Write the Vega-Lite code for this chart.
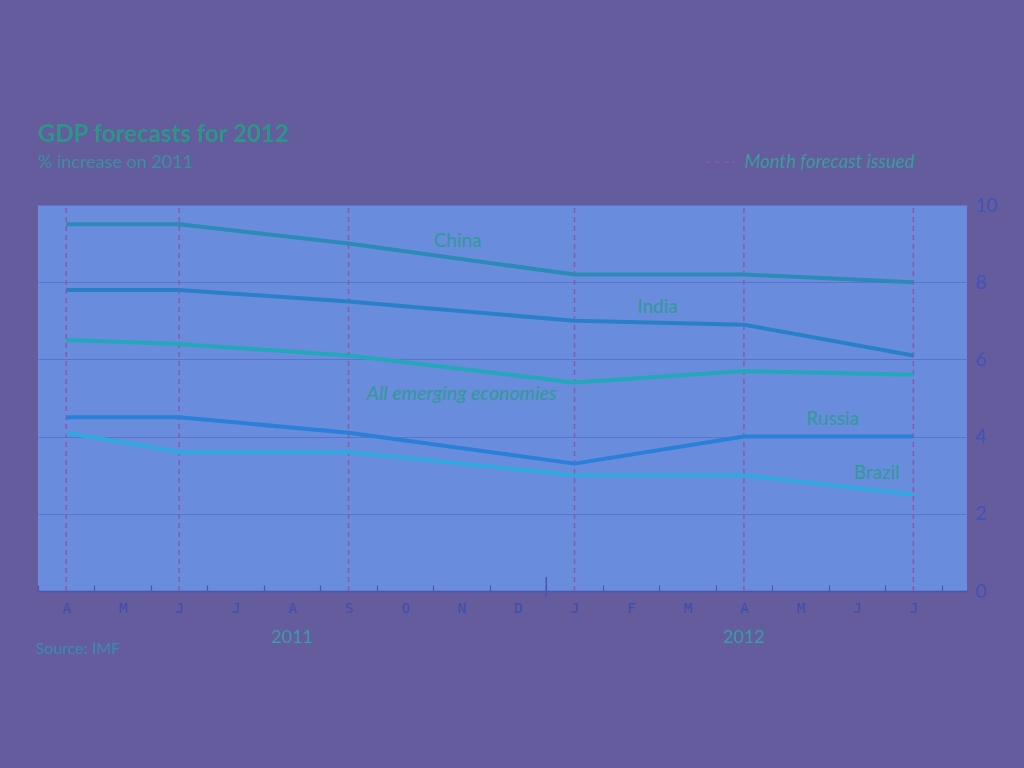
{
  "$schema": "https://vega.github.io/schema/vega-lite/v6.json",
  "autosize": {"type": "none"},
  "width": 929,
  "height": 386,
  "padding": {"left": 38, "top": 205, "right": 57, "bottom": 177},
  "background": "#645c9c",
  "config": {
    "view": {"stroke": null, "fill": "#6a8cdc"},
    "font": "Lato",
    "title": {"color": "#2d9488", "subtitleColor": "#3a8ea0"}
  },
  "title": {
    "text": "GDP forecasts for 2012",
    "subtitle": "% increase on 2011",
    "anchor": "start",
    "frame": "group",
    "fontSize": 24,
    "fontWeight": "bold",
    "subtitleFontSize": 18,
    "subtitlePadding": 7,
    "offset": -19
  },
  "datasets": {
    "gdp": [
      {"country": "China", "month": 4, "value": 9.5},
      {"country": "China", "month": 6, "value": 9.5},
      {"country": "China", "month": 9, "value": 9.0},
      {"country": "China", "month": 13, "value": 8.2},
      {"country": "China", "month": 16, "value": 8.2},
      {"country": "China", "month": 19, "value": 8.0},
      {"country": "India", "month": 4, "value": 7.8},
      {"country": "India", "month": 6, "value": 7.8},
      {"country": "India", "month": 9, "value": 7.5},
      {"country": "India", "month": 13, "value": 7.0},
      {"country": "India", "month": 16, "value": 6.9},
      {"country": "India", "month": 19, "value": 6.1},
      {"country": "All emerging economies", "month": 4, "value": 6.5},
      {"country": "All emerging economies", "month": 6, "value": 6.4},
      {"country": "All emerging economies", "month": 9, "value": 6.1},
      {"country": "All emerging economies", "month": 13, "value": 5.4},
      {"country": "All emerging economies", "month": 16, "value": 5.7},
      {"country": "All emerging economies", "month": 19, "value": 5.6},
      {"country": "Russia", "month": 4, "value": 4.5},
      {"country": "Russia", "month": 6, "value": 4.5},
      {"country": "Russia", "month": 9, "value": 4.1},
      {"country": "Russia", "month": 13, "value": 3.3},
      {"country": "Russia", "month": 16, "value": 4.0},
      {"country": "Russia", "month": 19, "value": 4.0},
      {"country": "Brazil", "month": 4, "value": 4.1},
      {"country": "Brazil", "month": 6, "value": 3.6},
      {"country": "Brazil", "month": 9, "value": 3.6},
      {"country": "Brazil", "month": 13, "value": 3.0},
      {"country": "Brazil", "month": 16, "value": 3.0},
      {"country": "Brazil", "month": 19, "value": 2.5}
    ],
    "forecasts": [
      {"month": 4}, {"month": 6}, {"month": 9}, {"month": 13}, {"month": 16}, {"month": 19}
    ],
    "one": [{}]
  },
  "layer": [
    {
      "data": {"name": "forecasts"},
      "mark": {"type": "rule", "color": "#8a5aa8", "strokeDash": [5, 4], "strokeWidth": 1.5},
      "encoding": {
        "x": {
          "field": "month",
          "type": "quantitative",
          "scale": {"domain": [3.5, 19.95], "nice": false, "zero": false},
          "axis": {
            "title": null,
            "grid": false,
            "values": [3.5, 4.5, 5.5, 6.5, 7.5, 8.5, 9.5, 10.5, 11.5, 12.5, 13.5, 14.5, 15.5, 16.5, 17.5, 18.5, 19.5],
            "labelExpr": "datum.value < 19 ? slice('JFMAMJJASOND', (datum.value + 0.5 - 1) % 12, (datum.value + 0.5 - 1) % 12 + 1) : ''",
            "labelOffset": 28.25,
            "labelFont": "DejaVu Sans Mono",
            "labelFontSize": 14,
            "labelColor": "#3e4eac",
            "labelPadding": 16,
            "labelBound": false,
            "labelOverlap": false,
            "labelFlush": false,
            "tickSize": -6,
            "tickColor": "#4a55b0",
            "tickWidth": 1.2,
            "domainColor": "#4a55b0",
            "domainWidth": 1.5
          }
        },
        "y": {"datum": 0},
        "y2": {"datum": 10}
      }
    },
    {
      "data": {"name": "gdp"},
      "mark": {"type": "line", "strokeWidth": 4, "strokeCap": "butt", "strokeJoin": "round"},
      "encoding": {
        "x": {"field": "month", "type": "quantitative"},
        "y": {
          "field": "value",
          "type": "quantitative",
          "scale": {"domain": [0, 10], "nice": false},
          "axis": {
            "orient": "right",
            "title": null,
            "values": [0, 2, 4, 6, 8, 10],
            "grid": true,
            "gridColor": "#5a74cc",
            "gridWidth": 1.2,
            "ticks": false,
            "domain": false,
            "labelAlign": "left",
            "labelPadding": 8,
            "labelFontSize": 19,
            "labelColor": "#4252b8"
          }
        },
        "color": {
          "field": "country",
          "type": "nominal",
          "scale": {
            "domain": ["China", "India", "All emerging economies", "Russia", "Brazil"],
            "range": ["#2a8ab8", "#2a80c8", "#22a8b8", "#2a7fd8", "#30a8e0"]
          },
          "legend": null
        }
      }
    },
    {
      "data": {"name": "one"},
      "mark": {"type": "rule", "color": "#4a55b0", "strokeWidth": 1.5},
      "encoding": {"x": {"datum": 12.5}, "y": {"datum": 0.36}, "y2": {"datum": -0.16}}
    },
    {
      "data": {"name": "one"},
      "mark": {"type": "text", "text": "China", "fontSize": 19, "color": "#2f9a98", "align": "center", "baseline": "middle"},
      "encoding": {"x": {"datum": 10.93}, "y": {"datum": 9.07}}
    },
    {
      "data": {"name": "one"},
      "mark": {"type": "text", "text": "India", "fontSize": 19, "color": "#2f9a98", "align": "center", "baseline": "middle"},
      "encoding": {"x": {"datum": 14.47}, "y": {"datum": 7.36}}
    },
    {
      "data": {"name": "one"},
      "mark": {"type": "text", "text": "All emerging economies", "fontSize": 19.5, "fontStyle": "italic", "color": "#2f9a98", "align": "center", "baseline": "middle"},
      "encoding": {"x": {"datum": 11.0}, "y": {"datum": 5.1}}
    },
    {
      "data": {"name": "one"},
      "mark": {"type": "text", "text": "Russia", "fontSize": 19, "color": "#2f9a98", "align": "center", "baseline": "middle"},
      "encoding": {"x": {"datum": 17.57}, "y": {"datum": 4.46}}
    },
    {
      "data": {"name": "one"},
      "mark": {"type": "text", "text": "Brazil", "fontSize": 19, "color": "#2f9a98", "align": "center", "baseline": "middle"},
      "encoding": {"x": {"datum": 18.35}, "y": {"datum": 3.06}}
    },
    {
      "data": {"name": "one"},
      "mark": {"type": "rule", "color": "#8a5aa8", "strokeDash": [5, 4], "strokeWidth": 1.5},
      "encoding": {"x": {"datum": 15.32}, "x2": {"datum": 15.84}, "y": {"datum": 11.11}}
    },
    {
      "data": {"name": "one"},
      "mark": {"type": "text", "text": "Month forecast issued", "fontSize": 18.6, "fontStyle": "italic", "color": "#3a9a9c", "align": "right", "baseline": "middle"},
      "encoding": {"x": {"datum": 19.02}, "y": {"datum": 11.11}}
    },
    {
      "data": {"name": "one"},
      "mark": {"type": "text", "text": "2011", "fontSize": 18, "color": "#3a9aa8", "align": "center", "baseline": "middle"},
      "encoding": {"x": {"datum": 8}, "y": {"datum": -1.22}}
    },
    {
      "data": {"name": "one"},
      "mark": {"type": "text", "text": "2012", "fontSize": 18, "color": "#3a9aa8", "align": "center", "baseline": "middle"},
      "encoding": {"x": {"datum": 16}, "y": {"datum": -1.22}}
    },
    {
      "data": {"name": "one"},
      "mark": {"type": "text", "text": "Source: IMF", "fontSize": 16, "color": "#3a8ab0", "align": "left", "baseline": "middle"},
      "encoding": {"x": {"datum": 3.46}, "y": {"datum": -1.5}}
    }
  ]
}
